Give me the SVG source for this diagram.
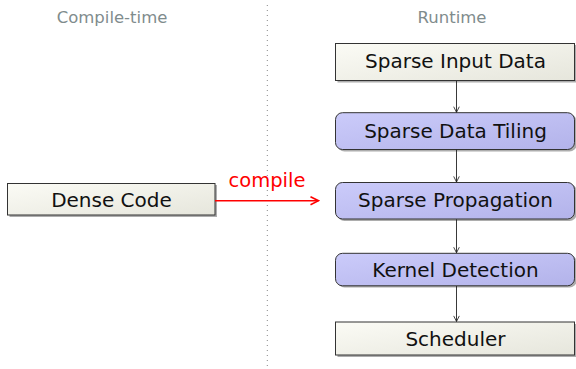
<svg xmlns="http://www.w3.org/2000/svg" width="576" height="369" viewBox="0 0 576 369">
<defs>
<linearGradient id="gPlain" x1="0" y1="0" x2="1" y2="1">
<stop offset="0" stop-color="#fbfbf5"/>
<stop offset="1" stop-color="#e6e6dc"/>
</linearGradient>
<linearGradient id="gBlue" x1="0" y1="0" x2="1" y2="1">
<stop offset="0" stop-color="#cbcbfa"/>
<stop offset="1" stop-color="#b3b3ea"/>
</linearGradient>
<marker id="arr" viewBox="0 0 10 10" refX="9" refY="5" markerWidth="7" markerHeight="7" markerUnits="userSpaceOnUse" orient="auto">
<path d="M1,1 L9,5 L1,9" fill="none" stroke="#222" stroke-width="1.2"/>
</marker>
<marker id="arrRed" viewBox="0 0 10 10" refX="9" refY="5" markerWidth="10" markerHeight="10" markerUnits="userSpaceOnUse" orient="auto">
<path d="M1,1 L9,5 L1,9" fill="none" stroke="#ff0000" stroke-width="1.6"/>
</marker>
</defs>
<style>
.hdr{font-family:"DejaVu Sans",sans-serif;font-size:16.5px;fill:#7f8c8d;text-anchor:middle}
.lbl{font-family:"DejaVu Sans",sans-serif;font-size:20px;fill:#111;text-anchor:middle}
.shadow{fill:#8a8a8a;opacity:0.7}
.plain{fill:url(#gPlain);stroke:#333;stroke-width:1}
.blue{fill:url(#gBlue);stroke:#333;stroke-width:1}
.conn{stroke:#222;stroke-width:0.9;fill:none}
</style>

<text class="hdr" x="112" y="23">Compile-time</text>
<text class="hdr" x="452" y="23">Runtime</text>
<line x1="267.3" y1="5" x2="267.3" y2="369" stroke="#888" stroke-width="1" stroke-dasharray="1,4"/>

<g id="dense">
<rect class="shadow" x="9.5" y="185" width="207.5" height="32"/>
<rect class="plain" x="7.5" y="183.5" width="207.5" height="31.5"/>
<text class="lbl" x="111.5" y="207">Dense Code</text>
</g>

<g id="input">
<rect class="shadow" x="337.5" y="45" width="239" height="37.5"/>
<rect class="plain" x="335.5" y="43.5" width="239" height="37"/>
<text class="lbl" x="455.5" y="67.5">Sparse Input Data</text>
</g>

<g id="tiling">
<rect class="shadow" x="337.5" y="114.5" width="239" height="37" rx="7"/>
<rect class="blue" x="335.5" y="112.7" width="239" height="36.8" rx="7"/>
<text class="lbl" x="455.5" y="137.5">Sparse Data Tiling</text>
</g>

<g id="propagation">
<rect class="shadow" x="337.5" y="184" width="239" height="37" rx="7"/>
<rect class="blue" x="335.5" y="182.5" width="239" height="36.5" rx="7"/>
<text class="lbl" x="455.5" y="207">Sparse Propagation</text>
</g>

<g id="kernel">
<rect class="shadow" x="337.5" y="255" width="239" height="32.5" rx="7"/>
<rect class="blue" x="335.5" y="253.3" width="239" height="32.5" rx="7"/>
<text class="lbl" x="455.5" y="276.5">Kernel Detection</text>
</g>

<g id="scheduler">
<rect class="shadow" x="337.5" y="324" width="239" height="33"/>
<rect class="plain" x="335.5" y="322" width="239" height="33"/>
<text class="lbl" x="455.5" y="345.5">Scheduler</text>
</g>

<g id="connectors">
<line class="conn" x1="456.5" y1="81" x2="456.5" y2="112.3" marker-end="url(#arr)"/>
<line class="conn" x1="456.5" y1="149.8" x2="456.5" y2="182" marker-end="url(#arr)"/>
<line class="conn" x1="456.5" y1="219.3" x2="456.5" y2="252.8" marker-end="url(#arr)"/>
<line class="conn" x1="456.5" y1="286" x2="456.5" y2="321.5" marker-end="url(#arr)"/>
<line x1="215" y1="200.7" x2="318.5" y2="200.7" stroke="#ff0000" stroke-width="1.6" marker-end="url(#arrRed)"/>
<text x="267" y="187" font-family="DejaVu Sans, sans-serif" font-size="19.5" fill="#ff0000" text-anchor="middle">compile</text>
</g>
</svg>
